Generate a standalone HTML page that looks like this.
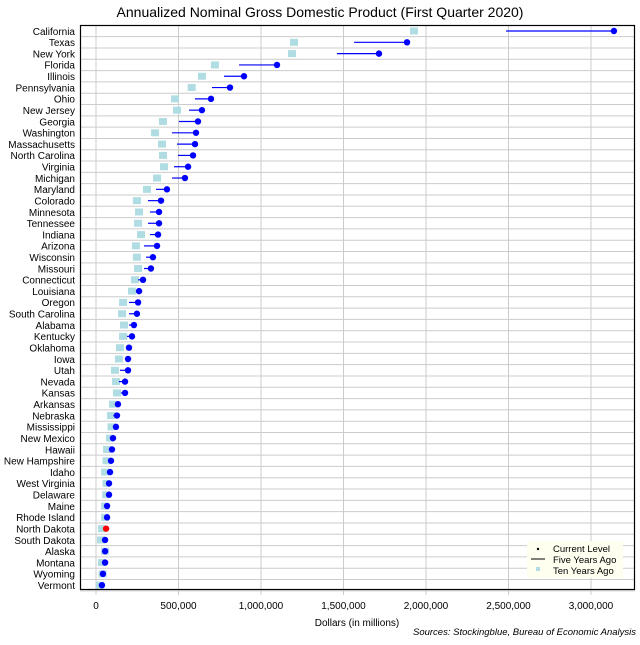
<!DOCTYPE html>
<html><head><meta charset="utf-8"><style>
body{margin:0;background:#fff;}
svg text{font-family:"Liberation Sans",sans-serif;}
</style></head><body>
<svg id="chart" width="640" height="640" xmlns="http://www.w3.org/2000/svg">
<rect width="640" height="640" fill="#fff"/>
<text x="320" y="17" text-anchor="middle" font-size="14">Annualized Nominal Gross Domestic Product (First Quarter 2020)</text>
<g id="grid"></g><g id="marks"></g>
<rect x="80.5" y="25.5" width="554" height="564" fill="none" stroke="#000" stroke-width="1.2"/>
<g id="labels"></g>
<text x="357" y="626" text-anchor="middle" font-size="10">Dollars (in millions)</text>
<text x="636" y="635" text-anchor="end" font-size="9.5" font-style="italic">Sources: Stockingblue, Bureau of Economic Analysis</text>
<g>
<rect x="527" y="541" width="96" height="37" fill="#fffff0"/>
<circle cx="538" cy="549" r="1.2" fill="#000"/>
<text x="553" y="552" font-size="9.5">Current Level</text>
<line x1="531" y1="559" x2="545" y2="559" stroke="#000"/>
<text x="553" y="563" font-size="9.5">Five Years Ago</text>
<rect x="536" y="567" width="4" height="4" fill="#b0dde3"/>
<text x="553" y="574" font-size="9.5">Ten Years Ago</text>
</g>
</svg>
<script>
const states=["California","Texas","New York","Florida","Illinois","Pennsylvania","Ohio","New Jersey","Georgia","Washington","Massachusetts","North Carolina","Virginia","Michigan","Maryland","Colorado","Minnesota","Tennessee","Indiana","Arizona","Wisconsin","Missouri","Connecticut","Louisiana","Oregon","South Carolina","Alabama","Kentucky","Oklahoma","Iowa","Utah","Nevada","Kansas","Arkansas","Nebraska","Mississippi","New Mexico","Hawaii","New Hampshire","Idaho","West Virginia","Delaware","Maine","Rhode Island","North Dakota","South Dakota","Alaska","Montana","Wyoming","Vermont"];
const current=[3139000,1885000,1715000,1097000,897000,812000,697000,642000,618000,606000,600000,588000,558000,539000,430000,394000,382000,382000,376000,370000,345000,333000,285000,261000,255000,248000,230000,218000,200000,194000,194000,176000,176000,133000,127000,121000,103000,97000,91000,85000,79000,79000,67000,67000,61000,55000,55000,55000,42000,36000];
const fiveYears=[2485000,1564000,1460000,867000,776000,703000,600000,564000,503000,461000,491000,497000,473000,461000,364000,315000,327000,315000,327000,291000,303000,291000,255000,242000,200000,200000,200000,188000,182000,176000,145000,139000,151000,115000,105000,103000,94000,85000,76000,70000,72000,75000,62000,62000,58000,52000,55000,50000,40000,34000];
const tenYears=[1927000,1200000,1188000,721000,642000,580000,479000,491000,406000,358000,400000,406000,412000,370000,309000,248000,261000,255000,273000,242000,248000,255000,236000,218000,164000,158000,170000,164000,145000,139000,115000,121000,127000,103000,91000,94000,85000,67000,64000,55000,64000,62000,55000,55000,36000,30000,55000,36000,40000,24000];
const xTicks=[0,500000,1000000,1500000,2000000,2500000,3000000];
const tickLabels=["0","500,000","1,000,000","1,500,000","2,000,000","2,500,000","3,000,000"];
const NS="http://www.w3.org/2000/svg";
const x=v=>96+v*0.000165;
const y=i=>31+i*11.31;
function mk(t,a,p){const e=document.createElementNS(NS,t);for(const k in a)e.setAttribute(k,a[k]);p.appendChild(e);return e;}
const grid=document.getElementById('grid'),marks=document.getElementById('marks'),labels=document.getElementById('labels');
xTicks.forEach((t,i)=>{
 const l=mk('line',{x1:x(t),x2:x(t),y1:25,y2:595,stroke:'#ccc','stroke-width':1},grid);
 
 
 const tx=mk('text',{x:x(t),y:609,'text-anchor':'middle','font-size':10},labels);
 tx.textContent=tickLabels[i];
 
 
});
states.forEach((s,i)=>{
 const gl=mk('line',{x1:80,x2:635,y1:y(i)+5.65,y2:y(i)+5.65,stroke:'#ccc','stroke-width':1},grid);
 
 
 const tl=mk('text',{x:75,y:y(i)+3.8,'text-anchor':'end','font-size':10},labels);
 tl.textContent=s;
 
 
 const r=mk('rect',{x:x(tenYears[i])-4,y:y(i)-3.5,width:8,height:7,fill:'#b0dde3'},marks);
 
 
 const ln=mk('line',{x1:x(fiveYears[i]),x2:x(current[i]),y1:y(i),y2:y(i),stroke:'#0000ff','stroke-width':1.2},marks);
 
 
 const c=mk('circle',{cx:x(current[i]),cy:y(i),r:3.2,fill:s==='North Dakota'?'#ff0000':'#0000ff'},marks);
 
 
});
</script>
</body></html>
